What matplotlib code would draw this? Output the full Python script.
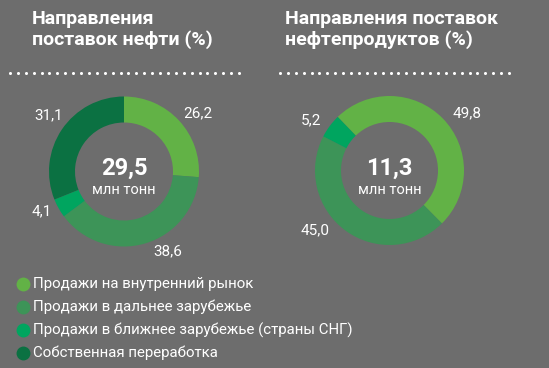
import matplotlib
matplotlib.use("Agg")
import matplotlib.pyplot as plt
from matplotlib import font_manager as fm
import numpy as np

names = {f.name for f in fm.fontManager.ttflist}
FONT = "Liberation Sans Narrow" if "Liberation Sans Narrow" in names else "Roboto"
plt.rcParams['font.family'] = [FONT, 'DejaVu Sans']

# Data
categories = ["Продажи на внутренний рынок", "Продажи в дальнее зарубежье",
              "Продажи в ближнее зарубежье (страны СНГ)", "Собственная переработка"]
oil_values = [26.2, 38.6, 4.1, 31.1]
oil_total = "29,5"
prod_categories = ["Продажи на внутренний рынок", "Продажи в дальнее зарубежье",
                   "Продажи в ближнее зарубежье (страны СНГ)"]
prod_values = [49.8, 45.0, 5.2]
prod_total = "11,3"
unit = "млн тонн"
titles = ["Направления\nпоставок нефти (%)", "Направления поставок\nнефтепродуктов (%)"]

colors = {"Продажи на внутренний рынок": "#62b246",
          "Продажи в дальнее зарубежье": "#3d9458",
          "Продажи в ближнее зарубежье (страны СНГ)": "#00a55f",
          "Собственная переработка": "#0b7142"}
BG = "#6d6d6d"
W, H = 549, 368

fig = plt.figure(figsize=(W/100, H/100), dpi=100, facecolor=BG)
ax = fig.add_axes([0, 0, 1, 1])
ax.set_facecolor(BG)

def Y(y):
    return H - y

def fmt(v):
    return f"{v:.1f}".replace(".", ",")

# Donut 1
ax.pie(oil_values, colors=[colors[c] for c in categories], startangle=90,
       counterclock=False, center=(124, Y(171.5)), radius=75,
       wedgeprops=dict(width=26, linewidth=0), frame=True)
oil_label_pos = [(198, 113), (168, 251), (42, 211), (49, 115)]
for v, (x, y) in zip(oil_values, oil_label_pos):
    ax.text(x, Y(y), fmt(v), color="white", fontsize=11, ha="center", va="center")

# Donut 2
ax.pie(prod_values, colors=[colors[c] for c in prod_categories], startangle=134,
       counterclock=False, center=(389.5, Y(170.5)), radius=74.5,
       wedgeprops=dict(width=26, linewidth=0), frame=True)
prod_label_pos = [(467, 113), (315, 230), (311, 120)]
for v, (x, y) in zip(prod_values, prod_label_pos):
    ax.text(x, Y(y), fmt(v), color="white", fontsize=11, ha="center", va="center")

ax.set_xlim(0, W)
ax.set_ylim(0, H)
ax.set_aspect('equal')
ax.axis('off')

# Center texts
for cx, tot in [(124, oil_total), (389.5, prod_total)]:
    ax.text(cx, Y(168.5), tot, color="white", fontsize=17, fontweight="bold",
            ha="center", va="center")
    ax.text(cx, Y(190), unit, color="white", fontsize=10.5, ha="center", va="center")

# Titles
for x, t in [(32, titles[0]), (285, titles[1])]:
    ax.text(x, Y(10), t, color="white", fontsize=14, fontweight="bold",
            ha="left", va="top", linespacing=1.12)

# Dotted separators
for x0, x1 in [(10, 240), (280, 512)]:
    xs = np.arange(x0, x1 + 0.1, 7.9)
    ax.plot(xs, [Y(73)] * len(xs), linestyle="none", marker="o", markersize=2.2,
            color="white", markeredgewidth=0)

# Legend
for i, c in enumerate(categories):
    y = 284 + i * 23
    ax.plot([23], [Y(y)], marker="o", markersize=10, color=colors[c], markeredgewidth=0)
    ax.text(33, Y(y), c, color="white", fontsize=10.8, ha="left", va="center")

fig.savefig("out.png", dpi=100, facecolor=BG)
